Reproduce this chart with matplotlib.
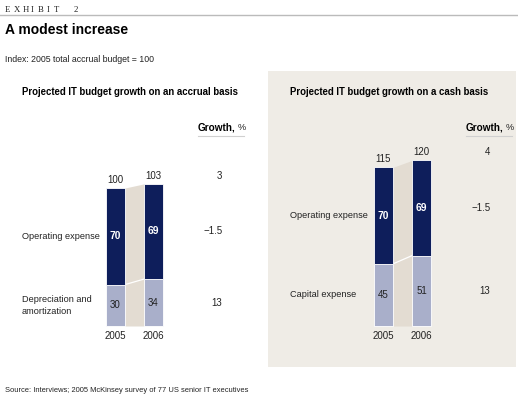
import matplotlib
matplotlib.use("Agg")
import matplotlib.pyplot as plt
from matplotlib.patches import Rectangle

plt.rcParams['font.family'] = ['Liberation Sans Narrow', 'Liberation Sans', 'DejaVu Sans']

# ---- data ----
years = ["2005", "2006"]
accrual_categories = ["Operating expense", "Depreciation and\namortization"]
accrual_opex = [70, 69]
accrual_dep = [30, 34]
accrual_totals = [100, 103]
accrual_growth = ["3", "\u22121.5", "13"]

cash_categories = ["Operating expense", "Capital expense"]
cash_opex = [70, 69]
cash_capex = [45, 51]
cash_totals = [115, 120]
cash_growth = ["4", "\u22121.5", "13"]

# ---- style ----
W, H = 518, 398
DARK = "#0E1E5B"
LIGHT = "#A9AFCA"
BAND = "#E3DCD2"
PANEL = "#EFECE6"
TXT = "#222222"
FS = 6.6
NFS = 7.0

fig = plt.figure(figsize=(W / 100, H / 100), dpi=100)
fig.patch.set_facecolor("white")


def fx(px):
    return px / W


def fy(py):
    return 1 - py / H


# header
exhibit = ["E", "X", "H", "I", "B", "I", "T", "2"]
exhibit_x = [5, 14, 23, 31, 38, 47, 54, 74]
for ch, px in zip(exhibit, exhibit_x):
    fig.text(fx(px), fy(10), ch, family=["Liberation Serif", "DejaVu Serif"],
             fontsize=6.3, color=TXT, va="center", ha="left")
fig.add_artist(plt.Line2D([0, 1], [fy(15), fy(15)], color="#BBBBBB", lw=1.0,
                          transform=fig.transFigure))
fig.text(fx(5), fy(30), "A modest increase", family=["Liberation Sans", "DejaVu Sans"],
         fontsize=10, fontweight="bold", color="black", va="center", ha="left")
fig.text(fx(5), fy(60), "Index: 2005 total accrual budget = 100", fontsize=6.3,
         color=TXT, va="center", ha="left")
fig.text(fx(5), fy(391), "Source: Interviews; 2005 McKinsey survey of 77 US senior IT executives",
         fontsize=5.4, color=TXT, va="center", ha="left")

# right panel background
fig.add_artist(Rectangle((fx(268), fy(367)), fx(516) - fx(268), fy(71) - fy(367),
                         transform=fig.transFigure, facecolor=PANEL, edgecolor="none",
                         zorder=-5))

PX_X = 38.0     # pixels per x unit
PX_Y = 1.38     # pixels per value unit
BASE_Y = 326    # pixel row of value 0
BW = 0.5


def panel(offset, title, cats, top_vals, bot_vals, totals, growth, right_px):
    c0 = 115.5 + offset
    L, R, T, B = 20 + offset, right_px, 100, 345
    ax = fig.add_axes([fx(L), fy(B), fx(R) - fx(L), fy(T) - fy(B)])
    ax.set_xlim((L - c0) / PX_X, (R - c0) / PX_X)
    ax.set_ylim((BASE_Y - B) / PX_Y, (BASE_Y - T) / PX_Y)
    ax.axis("off")

    x = [0, 1]
    # connector band
    ax.fill_between([x[0] + BW / 2, x[1] - BW / 2], [0, 0], totals,
                    color=BAND, lw=0, zorder=1)
    ax.plot([x[0] + BW / 2, x[1] - BW / 2], bot_vals, color="white", lw=0.9, zorder=2)

    ax.bar(x, bot_vals, width=BW, color=LIGHT, edgecolor="white", lw=0.6, zorder=3)
    ax.bar(x, top_vals, width=BW, bottom=bot_vals, color=DARK, edgecolor="white",
           lw=0.6, zorder=3)

    for i in range(2):
        ax.annotate(str(totals[i]), (x[i], totals[i]), xytext=(0, 3),
                    textcoords="offset pixels", ha="center", va="bottom",
                    fontsize=NFS, color=TXT)
        ax.annotate(years[i], (x[i], 0), xytext=(0, -5), textcoords="offset pixels",
                    ha="center", va="top", fontsize=NFS, color=TXT)
        ax.text(x[i], bot_vals[i] + top_vals[i] / 2, str(top_vals[i]), ha="center",
                va="center", fontsize=7.4, fontweight="bold", color="white", zorder=4)
        ax.text(x[i], bot_vals[i] / 2, str(bot_vals[i]), ha="center", va="center",
                fontsize=NFS, color=TXT, zorder=4)

    # category labels
    cx = (22 + offset - c0) / PX_X
    ax.text(cx, bot_vals[0] + top_vals[0] / 2, cats[0], ha="left", va="center",
            fontsize=FS, color=TXT, linespacing=1.35)
    ax.text(cx, bot_vals[0] / 2, cats[1], ha="left", va="center",
            fontsize=FS, color=TXT, linespacing=1.35)

    # growth column
    gx0 = (198 + offset - c0) / PX_X
    gx1 = (244 + offset - c0) / PX_X
    gr = (222.5 + offset - c0) / PX_X
    gt = ax.text(gx0, (BASE_Y - 127) / PX_Y, "Growth,", ha="left", va="center",
                 fontsize=7.2, fontweight="bold", color="black")
    ax.annotate("%", xy=(1, 0.5), xycoords=gt, xytext=(2, 0),
                textcoords="offset pixels", ha="left", va="center",
                fontsize=FS, color=TXT)
    ax.plot([gx0, gx1], [(BASE_Y - 135.5) / PX_Y] * 2, color="#D0D0D0", lw=0.8,
            clip_on=False)
    ax.annotate(growth[0], (gr, totals[1]), xytext=(0, 3), textcoords="offset pixels",
                ha="right", va="bottom", fontsize=NFS, color=TXT)
    ax.text(gr, bot_vals[1] + top_vals[1] / 2, growth[1], ha="right", va="center",
            fontsize=NFS, color=TXT)
    ax.text(gr, bot_vals[1] / 2, growth[2], ha="right", va="center",
            fontsize=NFS, color=TXT)

    fig.text(fx(22 + offset), fy(92), title, ha="left", va="center", fontsize=6.9,
             fontweight="bold", color="black")


panel(0, "Projected IT budget growth on an accrual basis", accrual_categories,
      accrual_opex, accrual_dep, accrual_totals, accrual_growth, 262)
panel(268, "Projected IT budget growth on a cash basis", cash_categories,
      cash_opex, cash_capex, cash_totals, cash_growth, 516)

fig.savefig("out.png", dpi=100, facecolor="white")
